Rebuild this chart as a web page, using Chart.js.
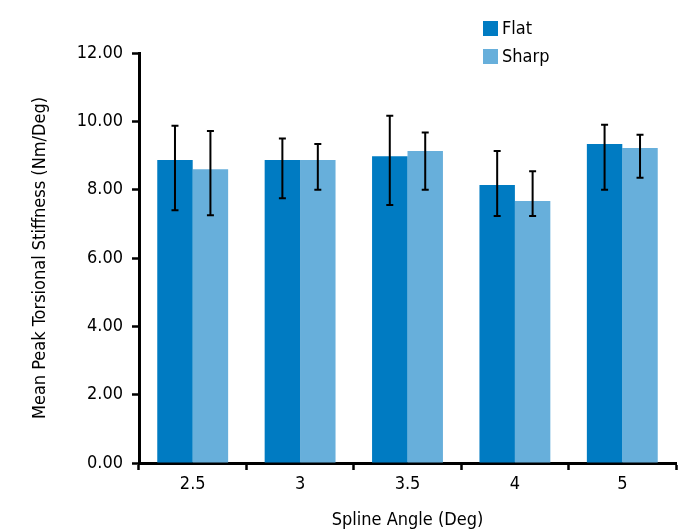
<!DOCTYPE html>
<html>
<head>
<meta charset="utf-8">
<script src="https://cdn.jsdelivr.net/npm/chart.js@4"></script>
<style>
  html, body { margin: 0; padding: 0; background: #ffffff; }
  #wrap { width: 679px; height: 531px; position: relative; }
</style>
</head>
<body>
<div id="wrap"><canvas id="c" width="679" height="531"></canvas></div>
<script>
// ---- data ----
const categories = ['2.5', '3', '3.5', '4', '5'];
const flatMeans  = [8.87, 8.87, 8.98, 8.14, 9.34];
const flatHigh   = [9.87, 9.50, 10.16, 9.13, 9.90];
const flatLow    = [7.40, 7.75, 7.55, 7.23, 8.00];
const sharpMeans = [8.60, 8.87, 9.13, 7.67, 9.22];
const sharpHigh  = [9.72, 9.34, 9.67, 8.54, 9.61];
const sharpLow   = [7.25, 8.00, 8.00, 7.23, 8.35];
const seriesNames = ['Flat', 'Sharp'];
const yTickValues = [0, 2, 4, 6, 8, 10, 12];

const FONT = "'Liberation Sans Narrow', 'DejaVu Sans Condensed', 'Arial Narrow', sans-serif";
const colFlat = '#007bc2';
const colSharp = '#67afdb';

const errorBars = {
  id: 'errorBars',
  afterDatasetsDraw(chart) {
    const ctx = chart.ctx;
    const ys = chart.scales.y;
    chart.data.datasets.forEach((ds, di) => {
      const meta = chart.getDatasetMeta(di);
      meta.data.forEach((bar, i) => {
        const x = bar.x;
        const yHi = ys.getPixelForValue(ds.errHigh[i]);
        const yLo = ys.getPixelForValue(ds.errLow[i]);
        ctx.save();
        ctx.strokeStyle = '#000000';
        ctx.lineWidth = 2;
        ctx.beginPath();
        ctx.moveTo(x, yHi); ctx.lineTo(x, yLo);
        ctx.moveTo(x - 3.5, yHi); ctx.lineTo(x + 3.5, yHi);
        ctx.moveTo(x - 3.5, yLo); ctx.lineTo(x + 3.5, yLo);
        ctx.stroke();
        ctx.restore();
      });
    });
  }
};

const sideLegend = {
  id: 'sideLegend',
  afterDraw(chart, args, opts) {
    const ctx = chart.ctx;
    ctx.save();
    ctx.font = '18px ' + FONT;
    ctx.textBaseline = 'middle';
    ctx.textAlign = 'left';
    chart.data.datasets.forEach((ds, i) => {
      const top = opts.y + i * opts.gap;
      ctx.fillStyle = ds.backgroundColor;
      ctx.fillRect(opts.x, top, opts.box, opts.box);
      ctx.fillStyle = '#000000';
      ctx.fillText(ds.label, opts.x + opts.box + 4, top + opts.box / 2 + 1);
    });
    ctx.restore();
  }
};

new Chart(document.getElementById('c'), {
  type: 'bar',
  data: {
    labels: categories,
    datasets: [
      { label: seriesNames[0], data: flatMeans, errHigh: flatHigh, errLow: flatLow,
        backgroundColor: colFlat, borderWidth: 0,
        categoryPercentage: 0.66, barPercentage: 1.0 },
      { label: seriesNames[1], data: sharpMeans, errHigh: sharpHigh, errLow: sharpLow,
        backgroundColor: colSharp, borderWidth: 0,
        categoryPercentage: 0.66, barPercentage: 1.0 }
    ]
  },
  options: {
    responsive: false,
    animation: false,
    devicePixelRatio: 1,
    layout: { padding: { left: 0, right: 3, top: 53, bottom: 0 } },
    plugins: {
      legend: { display: false },
      tooltip: { enabled: false },
      sideLegend: { x: 483, y: 21, box: 15, gap: 28 }
    },
    scales: {
      x: {
        offset: true,
        afterFit(scale) { scale.height = 531 - 53 - 410; },
        grid: { display: true, offset: true, drawOnChartArea: false, tickLength: 7, tickWidth: 2.5, tickColor: '#000000' },
        border: { display: true, color: '#000000', width: 3 },
        ticks: { color: '#000000', font: { family: FONT, size: 18 }, padding: 4 },
        title: { display: true, text: 'Spline Angle (Deg)', color: '#000000',
                 font: { family: FONT, size: 18 }, padding: { top: 0, bottom: 0 } }
      },
      y: {
        min: 0, max: 12,
        afterFit(scale) { scale.width = 139; },
        afterBuildTicks(scale) { scale.ticks = yTickValues.map(v => ({ value: v })); },
        grid: { display: true, drawOnChartArea: false, tickLength: 7, tickWidth: 2.5, tickColor: '#000000' },
        border: { display: true, color: '#000000', width: 3 },
        ticks: { color: '#000000', font: { family: FONT, size: 18 }, padding: 9,
                 callback: (v) => Number(v).toFixed(2) },
        title: { display: true, text: 'Mean Peak Torsional Stiffness (Nm/Deg)', color: '#000000',
                 font: { family: FONT, size: 18 }, padding: { top: 30, bottom: 0 } }
      }
    }
  },
  plugins: [errorBars, sideLegend]
});
</script>
</body>
</html>
